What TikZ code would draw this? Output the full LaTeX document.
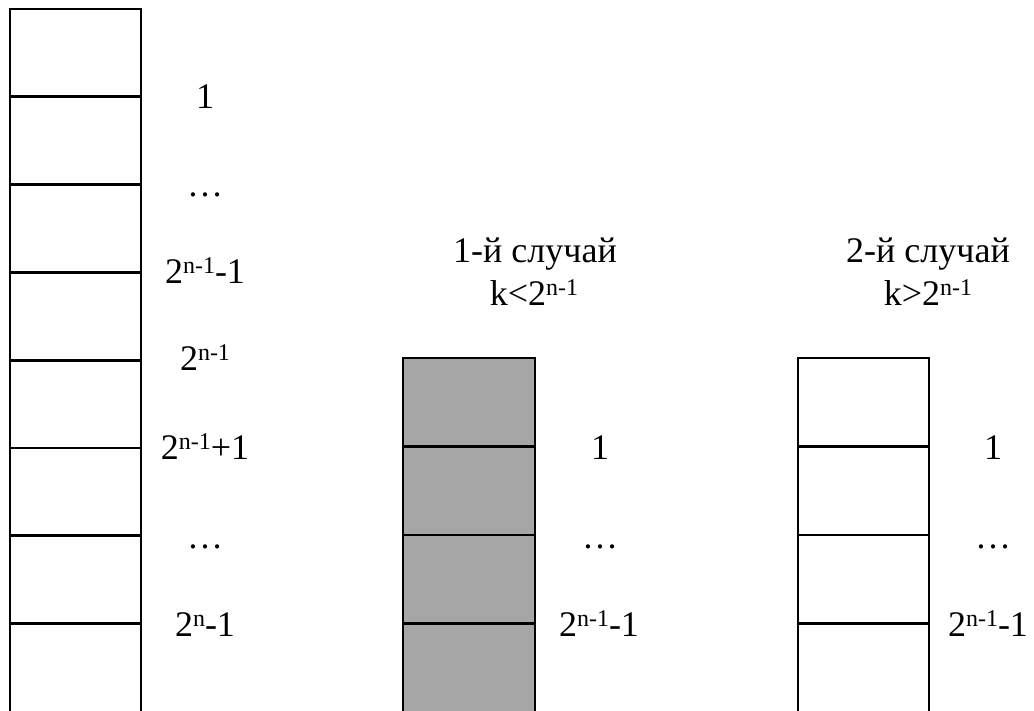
\documentclass[tikz,border=0pt]{standalone}
\usepackage{fontspec}
\setmainfont{Liberation Serif}
\newcommand{\supx}[1]{\raisebox{10pt}{\fontsize{24}{24}\selectfont #1}}
\definecolor{cellgray}{HTML}{A6A6A6}
\tikzset{
  cellbox/.style={draw, line width=2.9pt, minimum width=131pt, minimum height=87.8pt,
    inner sep=0pt, outer sep=0pt, anchor=north west},
  lastbox/.style={cellbox, minimum height=130pt},
  lbl/.style={anchor=base, inner sep=0pt, font=\fontsize{36}{40}\selectfont},
  ttl/.style={anchor=base, inner sep=0pt, align=center, font=\fontsize{36}{43}\selectfont}
}
\begin{document}
\begin{tikzpicture}[x=1pt,y=-1pt]
\useasboundingbox (0,0) rectangle (1034,711);
\clip (0,0) rectangle (1034,711);
% left column
\foreach \i in {0,...,6} {
  \node[cellbox] (L\i) at (10,{9+87.8*\i}) {};
}
\node[lastbox] (L7) at (10,{9+87.8*7}) {};
% middle column
\foreach \i in {0,1,2} {
  \node[cellbox, fill=cellgray, minimum width=132pt, minimum height=88.5pt] (M\i) at (403,{358+88.5*\i}) {};
}
\node[lastbox, fill=cellgray, minimum width=132pt] (M3) at (403,{358+88.5*3}) {};
% right column
\foreach \i in {0,1,2} {
  \node[cellbox, minimum height=88.5pt] (R\i) at (798,{358+88.5*\i}) {};
}
\node[lastbox] (R3) at (798,{358+88.5*3}) {};
% left labels
\node[lbl] (la1) at (205,109) {1};
\node[lbl] (la2) at (205,197) {…};
\node[lbl] (la3) at (205,284) {2\supx{n-1}-1};
\node[lbl] (la4) at (205,371) {2\supx{n-1}};
\node[lbl] (la5) at (205,459) {2\supx{n-1}+1};
\node[lbl] (la6) at (205,548) {…};
\node[lbl] (la7) at (205,636) {2\supx{n}-1};
% middle labels
\node[lbl] (ma1) at (600,459) {1};
\node[lbl] (ma2) at (600,548) {…};
\node[lbl] (ma3) at (599,636) {2\supx{n-1}-1};
\node[ttl] (mt1) at (535,263) {1-й случай};
\node[ttl] (mt2) at (534,306) {k<2\supx{n-1}};
% right labels
\node[lbl] (ra1) at (993,459) {1};
\node[lbl] (ra2) at (993,548) {…};
\node[lbl] (ra3) at (988,636) {2\supx{n-1}-1};
\node[ttl] (rt1) at (928,263) {2-й случай};
\node[ttl] (rt2) at (928,306) {k>2\supx{n-1}};
\end{tikzpicture}
\end{document}
